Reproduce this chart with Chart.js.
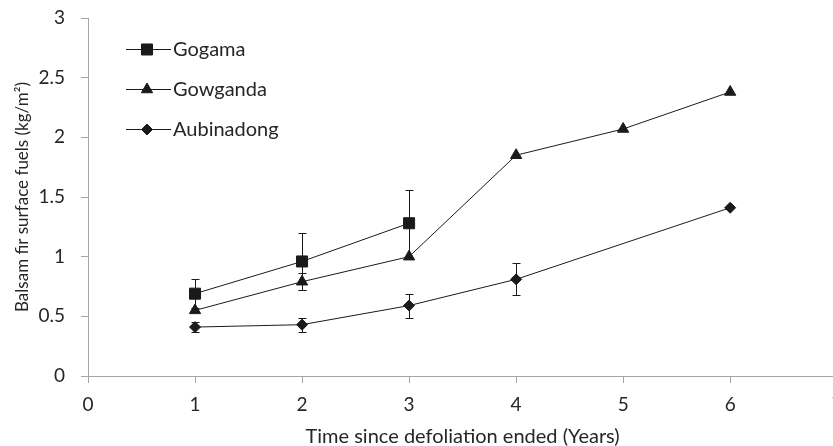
<!DOCTYPE html>
<html>
<head>
<meta charset="utf-8">
<script src="https://cdn.jsdelivr.net/npm/chart.js@4"></script>
<style>
  html, body { margin: 0; padding: 0; background: #fff; overflow: hidden; }
  #wrap { width: 846px; height: 446px; }
</style>
</head>
<body>
<div id="wrap"><canvas id="fuelChart" width="846" height="446"></canvas></div>
<script>
// years since defoliation ended
var gogamaYears = [1, 2, 3];
var gogamaValues = [0.69, 0.96, 1.28];
var gogamaErr = [0.12, 0.24, 0.28];

var gowgandaYears = [1, 2, 3, 4, 5, 6];
var gowgandaValues = [0.55, 0.79, 1.0, 1.85, 2.07, 2.38];
var gowgandaErr = [0, 0.07, 0, 0, 0, 0];

var aubinadongYears = [1, 2, 3, 4, 6];
var aubinadongValues = [0.41, 0.43, 0.59, 0.81, 1.41];
var aubinadongErr = [0.04, 0.06, 0.10, 0.135, 0];

var xTicks = [0, 1, 2, 3, 4, 5, 6, 7];
var yTicks = [0, 0.5, 1, 1.5, 2, 2.5, 3];

var fontFamily = "Lato, 'Open Sans', sans-serif";
var axisGrey = '#a6a6a6';
var textColor = '#262626';

function toPoints(xs, ys) {
    return xs.map(function (x, i) { return { x: x, y: ys[i] }; });
}

function makeSet(label, xs, ys, errs, style, radius) {
    return {
        label: label,
        data: toPoints(xs, ys),
        errors: errs,
        borderColor: '#1a1a1a',
        backgroundColor: '#1a1a1a',
        borderWidth: 1,
        pointStyle: style,
        pointRadius: radius,
        pointHoverRadius: radius,
        pointBorderWidth: 1,
        pointBackgroundColor: '#1a1a1a',
        pointBorderColor: '#1a1a1a',
        tension: 0,
        fill: false
    };
}

// error bars drawn from the scales
var errorBars = {
    id: 'errorBars',
    beforeDatasetsDraw: function (chart) {
        var ctx = chart.ctx;
        var xs = chart.scales.x, ys = chart.scales.y;
        ctx.save();
        ctx.strokeStyle = '#1a1a1a';
        ctx.lineWidth = 1;
        chart.data.datasets.forEach(function (ds) {
            ds.data.forEach(function (p, i) {
                var e = ds.errors[i];
                if (!e) return;
                var px = Math.round(xs.getPixelForValue(p.x)) + 0.5;
                var top = Math.round(ys.getPixelForValue(p.y + e)) + 0.5;
                var bot = Math.round(ys.getPixelForValue(p.y - e)) + 0.5;
                ctx.beginPath();
                ctx.moveTo(px, top); ctx.lineTo(px, bot);
                ctx.moveTo(px - 4, top); ctx.lineTo(px + 4, top);
                ctx.moveTo(px - 4, bot); ctx.lineTo(px + 4, bot);
                ctx.stroke();
            });
        });
        ctx.restore();
    }
};

// legend with line + marker, like the original
var lineLegend = {
    id: 'lineLegend',
    afterDraw: function (chart) {
        var ctx = chart.ctx;
        var rows = [49, 89, 129];
        ctx.save();
        chart.data.datasets.forEach(function (ds, i) {
            var y = rows[i];
            ctx.strokeStyle = '#1a1a1a';
            ctx.lineWidth = 1;
            ctx.beginPath();
            ctx.moveTo(126, y + 0.5); ctx.lineTo(171, y + 0.5);
            ctx.stroke();
            ctx.fillStyle = '#1a1a1a';
            ctx.strokeStyle = '#1a1a1a';
            Chart.helpers.drawPoint(ctx, {
                pointStyle: ds.pointStyle, radius: ds.pointRadius, rotation: 0, borderWidth: 1
            }, 147, y + 0.5);
            ctx.fillStyle = textColor;
            ctx.font = '20px ' + fontFamily;
            ctx.textBaseline = 'middle';
            ctx.textAlign = 'left';
            ctx.fillText(ds.label, 173, y + 1);
        });
        ctx.restore();
    }
};

new Chart(document.getElementById('fuelChart'), {
    type: 'line',
    data: {
        datasets: [
            makeSet('Gogama', gogamaYears, gogamaValues, gogamaErr, 'rect', 7.8),
            makeSet('Gowganda', gowgandaYears, gowgandaValues, gowgandaErr, 'triangle', 6.5),
            makeSet('Aubinadong', aubinadongYears, aubinadongValues, aubinadongErr, 'rectRot', 5.5)
        ]
    },
    options: {
        responsive: false,
        animation: false,
        events: [],
        layout: { padding: { top: 18, left: 0, right: 0, bottom: 0 } },
        plugins: {
            legend: { display: false },
            tooltip: { enabled: false }
        },
        scales: {
            x: {
                type: 'linear',
                min: 0, max: 7,
                afterBuildTicks: function (s) { s.ticks = xTicks.map(function (v) { return { value: v }; }); },
                afterFit: function (s) { s.height = 70; s.paddingLeft = 0; s.paddingRight = 0; },
                grid: { display: true, drawOnChartArea: false, drawTicks: true, tickLength: 7, color: axisGrey },
                border: { color: axisGrey, width: 1 },
                ticks: { color: textColor, font: { family: fontFamily, size: 19 }, padding: 10, maxRotation: 0 },
                title: {
                    display: true,
                    text: 'Time since defoliation ended (Years)',
                    color: textColor,
                    font: { family: fontFamily, size: 20 },
                    padding: { top: 0, bottom: -3 }
                }
            },
            y: {
                min: 0, max: 3,
                afterBuildTicks: function (s) { s.ticks = yTicks.map(function (v) { return { value: v }; }); },
                afterFit: function (s) { s.width = 88; s.paddingTop = 0; s.paddingBottom = 0; },
                grid: { display: true, drawOnChartArea: false, drawTicks: true, tickLength: 7, color: axisGrey },
                border: { color: axisGrey, width: 1 },
                ticks: {
                    color: textColor, font: { family: fontFamily, size: 19 }, padding: 16,
                    callback: function (v) { return String(v); }
                },
                title: {
                    display: true,
                    text: 'Balsam fir surface fuels (kg/m\u00B2)',
                    color: textColor,
                    font: { family: fontFamily, size: 17 },
                    padding: { top: 12, bottom: 0 }
                }
            }
        }
    },
    plugins: [errorBars, lineLegend]
});
</script>
</body>
</html>
